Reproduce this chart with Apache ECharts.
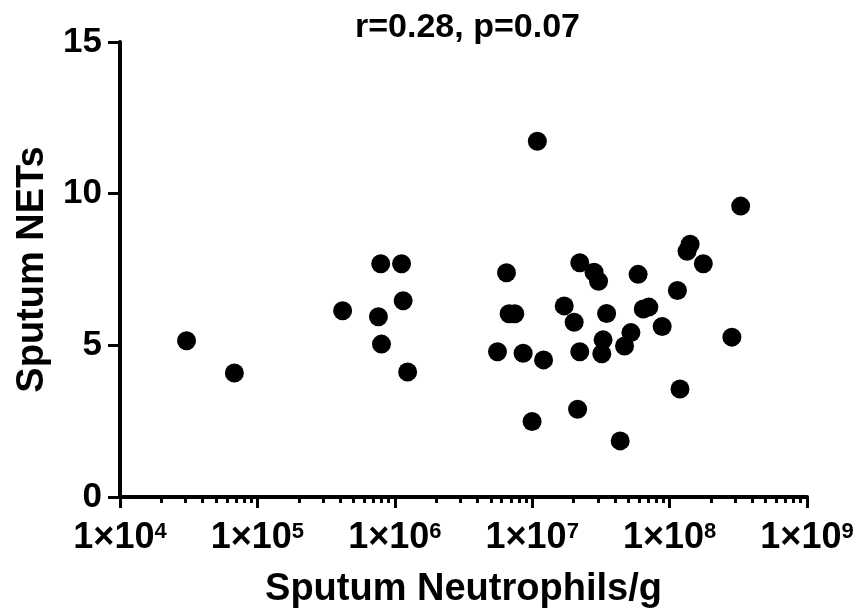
<!DOCTYPE html>
<html>
<head>
<meta charset="utf-8">
<script src="https://cdn.jsdelivr.net/npm/echarts@6/dist/echarts.min.js"></script>
<style>html,body{margin:0;padding:0;background:#fff}#c{width:857px;height:616px}</style>
</head>
<body>
<div id="c"></div>
<script>
var titleText = 'r=0.28, p=0.07';
var xName = 'Sputum Neutrophils/g';
var yName = 'Sputum NETs';
var neutrophils = [3.05e4, 6.8e4, 4.17e5, 7.6e5, 8.0e5, 7.9e5, 1.12e6, 1.15e6, 1.24e6, 6.5e6, 6.79e6, 7.47e6, 5.59e6, 8.59e6, 1.21e7, 9.98e6, 2.14e7, 4.37e7, 1.19e8, 2.84e8, 2.22e7, 2.82e7, 3.04e7, 5.9e7, 1.71e7, 2.02e7, 3.48e7, 2.22e7, 3.28e7, 3.21e7, 5.23e7, 4.7e7, 6.43e7, 7.06e7, 8.83e7, 1.14e8, 1.76e8, 1.41e8, 1.34e8, 1.09e7, 3.29e8];
var nets = [5.15, 4.09, 6.14, 5.94, 5.04, 7.69, 7.69, 6.47, 4.12, 7.39, 6.04, 6.04, 4.79, 4.74, 4.52, 2.49, 2.89, 1.85, 3.56, 5.27, 7.72, 7.41, 7.11, 7.34, 6.30, 5.76, 6.05, 4.79, 5.18, 4.72, 5.42, 4.98, 6.20, 6.26, 5.62, 6.81, 7.69, 8.33, 8.10, 11.73, 9.59];
var xMajorTicks = [1e4, 1e5, 1e6, 1e7, 1e8, 1e9];
var xMinorTicks = [];
xMajorTicks.slice(0, -1).forEach(function (d) { [2,3,4,5,6,7,8,9].forEach(function (m) { xMinorTicks.push(d * m); }); });
var yTicks = [0, 5, 10, 15];

var FONT = 'Arial, "Liberation Sans", sans-serif';
var data = neutrophils.map(function (x, i) { return [x, nets[i]]; });

var chart = echarts.init(document.getElementById('c'), null, {renderer: 'canvas'});
chart.setOption({
  animation: false,
  backgroundColor: '#fff',
  title: {
    text: titleText, left: 350, top: 6,
    textStyle: {fontFamily: FONT, fontWeight: 'bold', fontSize: 34, color: '#000'}
  },
  grid: {left: 120, right: 50, top: 42, bottom: 119, containLabel: false},
  xAxis: [{
    type: 'log', logBase: 10, min: 1e4, max: 1e9,
    name: xName, nameLocation: 'middle', nameGap: 74,
    nameTextStyle: {fontFamily: FONT, fontWeight: 'bold', fontSize: 38, color: '#000'},
    axisLine: {show: true, onZero: false, lineStyle: {color: '#000', width: 4}},
    axisTick: {show: true, customValues: xMajorTicks, length: 11, lineStyle: {color: '#000', width: 3}},
    minorTick: {show: false},
    splitLine: {show: false},
    axisLabel: {
      customValues: xMajorTicks, margin: 23, showMinLabel: true, showMaxLabel: true,
      formatter: function (v) { return '{b|1×10}{s|' + Math.round(Math.log10(v)) + '}'; },
      rich: {
        b: {fontFamily: FONT, fontWeight: 'bold', fontSize: 36, color: '#000'},
        s: {fontFamily: FONT, fontWeight: 'bold', fontSize: 22, color: '#000', padding: [0, 0, 13, 0]}
      }
    }
  }, {
    type: 'log', logBase: 10, min: 1e4, max: 1e9, position: 'bottom',
    axisLine: {show: false},
    axisTick: {show: true, customValues: xMinorTicks, length: 6, lineStyle: {color: '#000', width: 3}},
    axisLabel: {show: false},
    splitLine: {show: false}
  }],
  yAxis: {
    type: 'value', min: 0, max: 15, interval: 5,
    name: yName, nameLocation: 'middle', nameGap: 68, nameRotate: 90,
    nameTextStyle: {fontFamily: FONT, fontWeight: 'bold', fontSize: 38, color: '#000'},
    axisLine: {show: true, lineStyle: {color: '#000', width: 4}},
    axisTick: {show: true, length: 12, lineStyle: {color: '#000', width: 3}},
    splitLine: {show: false},
    axisLabel: {margin: 18, fontFamily: FONT, fontWeight: 'bold', fontSize: 35, color: '#000',
      customValues: yTicks}
  },
  series: [{
    type: 'scatter', xAxisIndex: 0, yAxisIndex: 0,
    symbol: 'circle', symbolSize: 19,
    itemStyle: {color: '#000', opacity: 1},
    data: data
  }]
});
</script>
</body>
</html>
